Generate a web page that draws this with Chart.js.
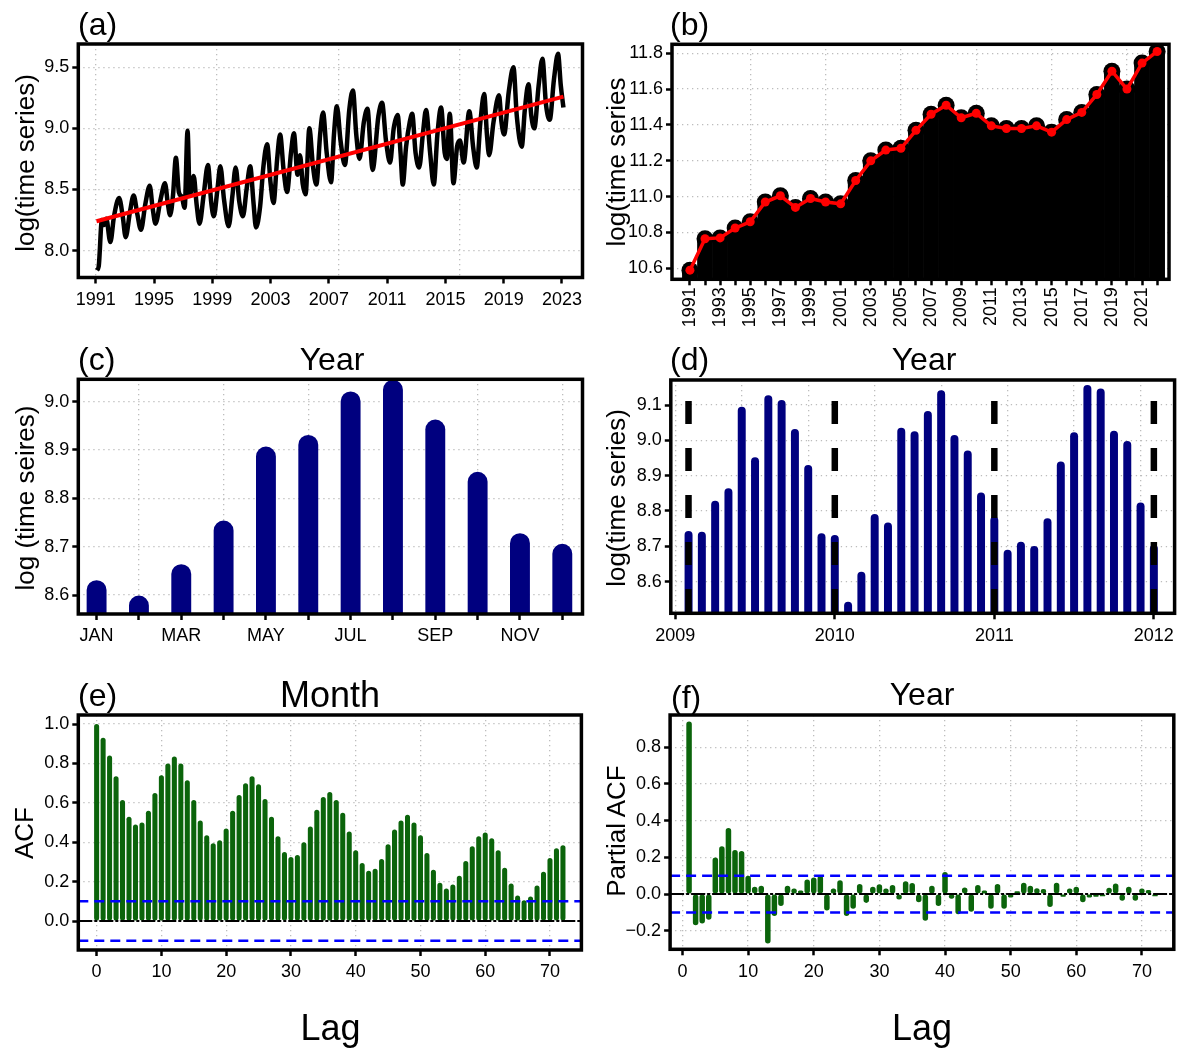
<!DOCTYPE html>
<html><head><meta charset="utf-8">
<script src="https://cdn.jsdelivr.net/npm/chart.js@4/dist/chart.umd.min.js"></script>
<style>
body{margin:0;background:#fff;width:1181px;height:1051px;position:relative;overflow:hidden;font-family:"Liberation Sans",Arial,Helvetica,sans-serif;}
.panel{position:absolute;}
.txt{position:absolute;white-space:nowrap;line-height:1;color:#000;}
</style></head><body>
<script>
// ---------------- DATA ----------------
// (a) monthly log series (turning points) and linear trend
const aTime = [1991.08,1991.20,1991.42,1991.58,1991.72,1992.00,1992.25,1992.60,1992.85,1993.05,1993.35,1993.60,1993.85,1994.10,1994.40,1994.70,1994.90,1995.10,1995.45,1995.75,1995.95,1996.10,1996.30,1996.50,1996.70,1996.90,1997.10,1997.30,1997.45,1997.72,1997.92,1998.12,1998.40,1998.70,1998.92,1999.10,1999.35,1999.55,1999.80,2000.12,2000.38,2000.60,2000.85,2001.10,2001.35,2001.60,2001.82,2002.00,2002.28,2002.50,2002.76,2003.00,2003.20,2003.45,2003.65,2003.90,2004.13,2004.40,2004.60,2004.85,2005.02,2005.20,2005.40,2005.66,2005.90,2006.14,2006.40,2006.60,2006.85,2007.15,2007.35,2007.55,2007.80,2008.10,2008.40,2008.65,2008.88,2009.10,2009.40,2009.65,2009.85,2010.00,2010.40,2010.65,2010.92,2011.20,2011.45,2011.72,2011.92,2012.07,2012.30,2012.55,2012.72,2012.95,2013.20,2013.45,2013.67,2013.95,2014.20,2014.45,2014.70,2014.95,2015.10,2015.30,2015.55,2015.80,2016.00,2016.25,2016.64,2016.90,2017.15,2017.40,2017.66,2017.85,2018.00,2018.30,2018.68,2018.85,2019.03,2019.35,2019.67,2019.90,2020.24,2020.45,2020.70,2020.90,2021.10,2021.40,2021.66,2021.90,2022.16,2022.45,2022.73,2022.92,2023.10];
const aValue = [7.84,7.87,8.25,8.21,8.26,8.07,8.28,8.43,8.28,8.11,8.32,8.45,8.30,8.17,8.38,8.53,8.35,8.22,8.42,8.55,8.38,8.29,8.45,8.76,8.48,8.44,8.35,8.98,8.45,8.61,8.38,8.22,8.45,8.70,8.40,8.28,8.50,8.69,8.42,8.20,8.45,8.68,8.40,8.28,8.50,8.69,8.40,8.19,8.36,8.68,8.87,8.55,8.39,8.75,8.95,8.65,8.48,8.80,8.96,8.62,8.78,8.55,8.46,9.00,8.70,8.54,8.95,9.13,8.80,8.56,8.95,9.18,8.90,8.70,9.15,9.31,8.95,8.75,9.05,9.16,8.85,8.66,9.10,9.21,8.90,8.72,9.00,9.11,8.80,8.54,8.85,9.05,9.12,8.80,8.68,8.95,9.15,8.80,8.54,8.95,9.17,8.80,8.75,9.12,8.55,8.85,8.90,8.72,9.14,8.85,8.68,9.05,9.28,8.95,8.78,9.05,9.27,9.05,8.95,9.30,9.50,9.10,8.85,9.15,9.36,9.10,9.00,9.35,9.57,9.20,9.07,9.40,9.61,9.35,9.17];
const trendTime = [1991.05, 2023.10];
const trendValue = [8.24, 9.26];
const aXTicks = [1991,1995,1999,2003,2007,2011,2015,2019,2023];
const aYTicks = [8.0,8.5,9.0,9.5];

// (b) yearly log series
const bYears = [1991,1992,1993,1994,1995,1996,1997,1998,1999,2000,2001,2002,2003,2004,2005,2006,2007,2008,2009,2010,2011,2012,2013,2014,2015,2016,2017,2018,2019,2020,2021,2022];
const bValues = [10.59,10.765,10.77,10.825,10.86,10.97,11.005,10.94,10.99,10.97,10.96,11.09,11.20,11.26,11.27,11.37,11.46,11.51,11.44,11.465,11.395,11.38,11.38,11.395,11.36,11.43,11.47,11.57,11.70,11.60,11.745,11.81];
const bYTicks = [10.6,10.8,11.0,11.2,11.4,11.6,11.8];

// (c) monthly profile
const cMonths = ['JAN','FEB','MAR','APR','MAY','JUN','JUL','AUG','SEP','OCT','NOV','DEC'];
const cValues = [8.631,8.599,8.664,8.754,8.907,8.931,9.021,9.045,8.963,8.855,8.728,8.706];
const cYTicks = [8.6,8.7,8.8,8.9,9.0];

// (d) monthly values 2009-2011
const dYears = [2009,2010,2011];
const d2009 = [8.743,8.741,8.829,8.864,9.095,8.952,9.128,9.114,9.032,8.930,8.737,8.732];
const d2010 = [8.543,8.628,8.791,8.767,9.036,9.026,9.083,9.142,9.015,8.971,8.852,8.784];
const d2011 = [8.690,8.713,8.701,8.779,8.940,9.023,9.157,9.147,9.027,8.998,8.824,8.704];
const dDashX = [2009.083,2010,2011,2012];
const dXTicks = [2009,2010,2011,2012];
const dYTicks = [8.6,8.7,8.8,8.9,9.0,9.1];

// (e) ACF, lags 0..72
const acfValues = [1.0,0.93,0.84,0.735,0.615,0.53,0.49,0.50,0.56,0.65,0.74,0.80,0.835,0.80,0.715,0.615,0.51,0.435,0.395,0.41,0.47,0.56,0.64,0.70,0.735,0.695,0.62,0.53,0.43,0.35,0.325,0.335,0.40,0.48,0.565,0.63,0.655,0.615,0.55,0.455,0.36,0.295,0.255,0.265,0.315,0.39,0.465,0.51,0.54,0.50,0.435,0.345,0.26,0.195,0.165,0.185,0.23,0.305,0.38,0.43,0.45,0.42,0.36,0.27,0.19,0.13,0.105,0.125,0.18,0.25,0.32,0.37,0.385];
// (f) PACF, lags 1..72
const pacfValues = [0.94,-0.17,-0.16,-0.14,0.20,0.26,0.36,0.24,0.235,0.10,0.04,0.045,-0.27,-0.12,-0.065,0.045,0.03,0.02,0.08,0.09,0.10,-0.09,0.03,0.075,-0.12,-0.08,0.055,-0.048,0.04,0.053,0.03,0.05,-0.03,0.07,0.06,-0.045,-0.145,0.045,-0.065,0.12,-0.025,-0.11,0.036,-0.096,0.05,0.02,-0.08,0.055,-0.08,-0.018,0.015,0.062,0.045,0.032,0.027,-0.07,0.062,-0.015,0.03,0.04,-0.045,-0.018,-0.015,-0.012,0.035,0.058,-0.037,0.04,-0.037,0.03,0.022,-0.012];
const lagTicks = [0,10,20,30,40,50,60,70];
const eYTicks = [0,0.2,0.4,0.6,0.8,1.0];
const fYTicks = [-0.2,0,0.2,0.4,0.6,0.8];
const confLimit = 0.1;

// ---------------- SETUP ----------------
const FONT = '"Liberation Sans", Arial, Helvetica, sans-serif';
Chart.defaults.font.family = FONT;
Chart.defaults.animation = false;
Chart.defaults.events = [];
Chart.defaults.plugins.legend.display = false;
Chart.defaults.plugins.tooltip.enabled = false;
const GRID = '#bdbdbd';
const NAVY = '#00007f';
const GREEN = '#0b640b';

const framePlugin = {id:'frame', afterDraw(c){
  const a=c.chartArea, ctx=c.ctx; ctx.save(); ctx.strokeStyle='#000'; ctx.lineWidth=3.5;
  ctx.strokeRect(a.left,a.top,a.right-a.left,a.bottom-a.top); ctx.restore(); }};

function pts(xs, ys){ return xs.map((x,i)=>({x:x, y:ys[i]})); }
function fmt1(v){ return v<0 ? '\u2212'+Math.abs(v).toFixed(1) : v.toFixed(1); }

function panel(o){
  const div=document.createElement('div'); div.className='panel';
  div.style.left=o.left+'px'; div.style.top=o.top+'px';
  div.style.width=o.width+'px'; div.style.height=o.height+'px';
  const cv=document.createElement('canvas'); cv.width=o.width; cv.height=o.height;
  div.appendChild(cv); document.body.appendChild(div);
  const padL=o.box.L-o.left, padT=o.box.T-o.top, padR=o.left+o.width-o.box.R, padB=o.top+o.height-o.box.B;
  const tf={size:18, family:FONT};
  const scales={
    x:{type:'linear',position:'bottom',min:o.x.min,max:o.x.max,offset:false,
      afterFit:s=>{s.height=padB;},
      afterBuildTicks:s=>{s.ticks=o.x.ticks.map(v=>({value:v}));},
      grid:{display:true,drawOnChartArea:false,drawTicks:true,tickLength:6,tickWidth:2.5,tickColor:'#000',offset:false},
      border:{display:false},
      ticks:{autoSkip:false,minRotation:o.x.rot||0,maxRotation:o.x.rot||0,padding:o.x.pad,color:'#000',font:tf,
        callback:(v,i)=>o.x.labels[i]}},
    y:{type:'linear',position:'left',min:o.y.min,max:o.y.max,
      afterFit:s=>{s.width=padL;},
      afterBuildTicks:s=>{s.ticks=o.y.ticks.map(v=>({value:v}));},
      grid:{display:true,drawOnChartArea:false,drawTicks:true,tickLength:6,tickWidth:2.5,tickColor:'#000'},
      border:{display:false},
      ticks:{autoSkip:false,padding:3,color:'#000',font:tf,callback:(v,i)=>fmt1(o.y.ticks[i])}},
    xg:{type:'linear',position:'top',min:o.x.min,max:o.x.max,offset:false,
      afterFit:s=>{s.height=0;},
      afterBuildTicks:s=>{s.ticks=o.x.grid.map(v=>({value:v}));},
      ticks:{display:false},grid:{drawTicks:false,color:GRID,lineWidth:1.3,offset:false},
      border:{display:false,dash:[1.3,3.7]},z:1},
    yg:{type:'linear',position:'right',min:o.y.min,max:o.y.max,
      afterFit:s=>{s.width=0;},
      afterBuildTicks:s=>{s.ticks=o.y.grid.map(v=>({value:v}));},
      ticks:{display:false},grid:{drawTicks:false,color:GRID,lineWidth:1.3},
      border:{display:false,dash:[1.3,3.7]},z:o.y.gridTop?1:0}
  };
  return new Chart(cv,{type:'bar',data:{datasets:o.datasets},
    options:{responsive:false,maintainAspectRatio:false,
      layout:{padding:{left:0,top:padT,right:padR,bottom:0}},scales:scales},
    plugins:[framePlugin]});
}

function hline(y, xmin, xmax, color, width, dash, order){
  return {type:'line',data:[{x:xmin,y:y},{x:xmax,y:y}],borderColor:color,borderWidth:width,borderDash:dash,pointRadius:0,order:order};
}

// ---------------- (a) ----------------
panel({left:0,top:0,width:592,height:335,box:{L:78.3,T:44,R:582.5,B:277.5},
  x:{min:1989.80,max:2024.41,ticks:aXTicks,labels:aXTicks.map(String),pad:6,grid:[1991,1999.33,2007.67,2016.0]},
  y:{min:7.78,max:9.69,ticks:aYTicks,grid:aYTicks},
  datasets:[
    {type:'line',data:pts(trendTime,trendValue),borderColor:'#ff0000',borderWidth:4,pointRadius:0,order:1},
    {type:'line',data:pts(aTime,aValue),borderColor:'#000',borderWidth:4.5,pointRadius:0,cubicInterpolationMode:'monotone',borderJoinStyle:'round',order:2}
  ]});

// ---------------- (b) ----------------
panel({left:592,top:0,width:589,height:335,box:{L:672,T:44.3,R:1172,B:279.3},
  x:{min:1989.81,max:2022.79,ticks:bYears,labels:bYears.map(y=>y%2===1?String(y):''),rot:90,pad:2,grid:[1995,2000,2005,2010,2015,2020]},
  y:{min:10.539,max:11.850,ticks:bYTicks,grid:bYTicks,gridTop:true},
  datasets:[
    {type:'line',data:pts(bYears,bValues),borderColor:'#ff0000',borderWidth:3.5,pointRadius:4.5,pointBackgroundColor:'#ff0000',pointBorderWidth:0,order:1},
    {type:'line',data:pts(bYears,bValues),showLine:false,pointRadius:8.5,pointBackgroundColor:'#000',pointBorderWidth:0,order:2},
    {type:'bar',data:pts(bYears,bValues),backgroundColor:'#000',barPercentage:1,categoryPercentage:1,order:3}
  ]});

// ---------------- (c) ----------------
const cX = cMonths.map((m,i)=>i+1);
panel({left:0,top:335,width:592,height:330,box:{L:78.3,T:379.3,R:582.5,B:614},
  x:{min:0.568,max:12.477,ticks:cX,labels:cMonths.map((m,i)=>i%2===0?m:''),pad:5,grid:[2,4,6,8,10,12]},
  y:{min:8.561,max:9.046,ticks:cYTicks,grid:cYTicks},
  datasets:[
    {type:'bar',data:pts(cX,cValues),backgroundColor:NAVY,barPercentage:0.47,categoryPercentage:1,borderRadius:10,order:3}
  ]});

// ---------------- (d) ----------------
const dX=[], dV=[];
[d2009,d2010,d2011].forEach((arr,k)=>arr.forEach((v,m)=>{dX.push(dYears[k]+(m+1)/12); dV.push(v);}));
const dRange={min:8.51,max:9.171};
const dDash = dDashX.map(x=>({type:'line',data:[{x:x,y:dRange.max},{x:x,y:dRange.min}],borderColor:'#000',borderWidth:6.5,borderDash:[23,24],borderDashOffset:26,borderCapStyle:'butt',pointRadius:0,order:1}));
panel({left:592,top:335,width:589,height:330,box:{L:670.8,T:380,R:1174.6,B:613.3},
  x:{min:2008.972,max:2012.13,ticks:dXTicks,labels:dXTicks.map(String),pad:6,grid:[2009,2009.417,2009.833,2010.25,2010.667,2011.083,2011.5,2011.917]},
  y:{min:dRange.min,max:dRange.max,ticks:dYTicks,grid:dYTicks},
  datasets:dDash.concat([
    {type:'bar',data:pts(dX,dV),backgroundColor:NAVY,barPercentage:0.6,categoryPercentage:1,borderRadius:4,order:3}
  ])});

// ---------------- (e) ----------------
const eX = acfValues.map((v,i)=>i);
const eR={min:-2.83,max:74.85};
panel({left:0,top:665,width:592,height:386,box:{L:78.3,T:715,R:581.4,B:950},
  x:{min:eR.min,max:eR.max,ticks:lagTicks,labels:lagTicks.map(String),pad:5,grid:lagTicks},
  y:{min:-0.147,max:1.046,ticks:eYTicks,grid:eYTicks},
  datasets:[
    hline(confLimit,eR.min,eR.max,'#0000ff',2.5,[10,6],1),
    hline(-confLimit,eR.min,eR.max,'#0000ff',2.5,[10,6],1),
    hline(0,eR.min,eR.max,'#000',2,[14,2,3,2],2),
    {type:'bar',data:pts(eX,acfValues),backgroundColor:GREEN,barPercentage:0.78,categoryPercentage:1,borderRadius:3,borderSkipped:false,order:3}
  ]});

// ---------------- (f) ----------------
const fX = pacfValues.map((v,i)=>i+1);
const fR={min:-1.89,max:74.86};
panel({left:592,top:665,width:589,height:386,box:{L:670.1,T:715,R:1173.8,B:949.3},
  x:{min:fR.min,max:fR.max,ticks:lagTicks,labels:lagTicks.map(String),pad:5.5,grid:lagTicks},
  y:{min:-0.301,max:0.976,ticks:fYTicks,grid:fYTicks},
  datasets:[
    hline(confLimit,fR.min,fR.max,'#0000ff',2.5,[10,6],1),
    hline(-confLimit,fR.min,fR.max,'#0000ff',2.5,[10,6],1),
    hline(0,fR.min,fR.max,'#000',2,[14,2,3,2],2),
    {type:'bar',data:pts(fX,pacfValues),backgroundColor:GREEN,barPercentage:0.84,categoryPercentage:1,borderRadius:3,borderSkipped:false,order:3}
  ]});

// ---------------- TEXT ----------------
function text(str, x, baseline, size, center){
  const d=document.createElement('div'); d.className='txt'; d.textContent=str;
  d.style.fontSize=size+'px'; d.style.top=(baseline-0.8465*size)+'px'; d.style.left=x+'px';
  if(center) d.style.transform='translateX(-50%)';
  document.body.appendChild(d);
}
function vtext(str, cx, cy, size){
  const d=document.createElement('div'); d.className='txt'; d.textContent=str;
  d.style.fontSize=size+'px'; d.style.left=cx+'px'; d.style.top=cy+'px';
  d.style.transform='translate(-50%,-50%) rotate(-90deg)';
  document.body.appendChild(d);
}
text('(a)',78,35.3,32); text('(b)',670,35.3,32);
text('(c)',78,370.3,32); text('(d)',670,370.3,32);
text('(e)',78,706.3,32); text('(f)',671,708.3,32);
text('Year',332,370,32,true); text('Year',924,370,32,true);
text('Month',330,707,36,true); text('Year',922,705,32,true);
text('Lag',330.5,1040,36,true); text('Lag',922,1040,36,true);
vtext('log(time series)',24.5,162.5,26);
vtext('log(time series',616,161.5,26);
vtext('log (time seires)',24.5,497.6,26);
vtext('log(time series)',616,497.5,26);
vtext('ACF',23.5,832.5,26);
vtext('Partial ACF',616.3,830.7,26);
</script>
</body></html>
